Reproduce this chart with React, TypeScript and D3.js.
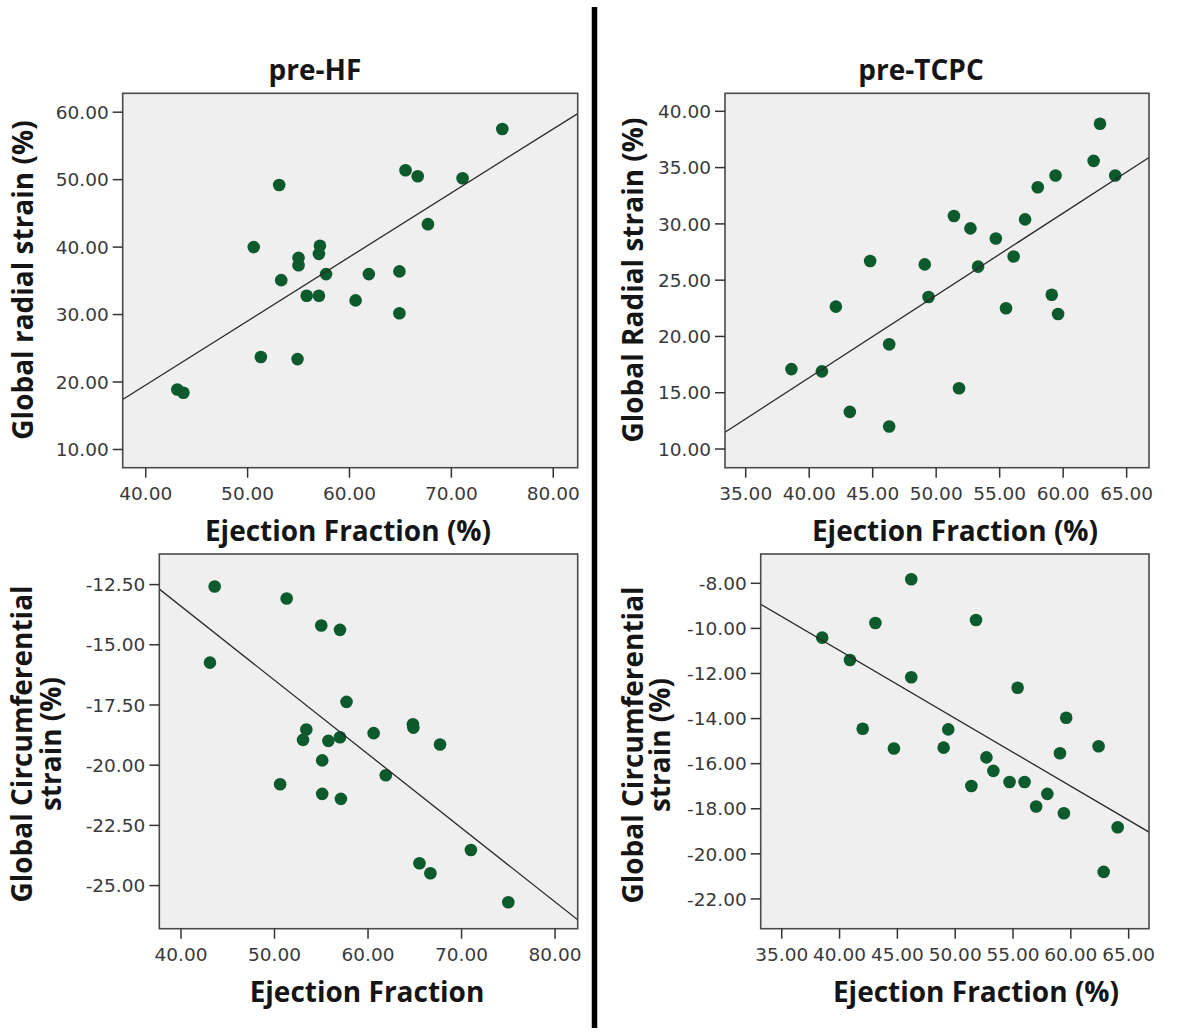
import React from "react";
import * as d3 from "d3";

// ---- Data ----
// Panel A: pre-HF, Global radial strain vs Ejection Fraction
const hfRadialEF = [75.0, 65.5, 66.7, 71.1, 53.1, 67.7, 50.6, 57.1, 57.0, 55.0, 55.0, 57.7, 61.9, 64.9, 53.3, 55.8, 57.0, 60.6, 64.9, 51.3, 54.9, 43.1, 43.7];
const hfRadialStrain = [57.5, 51.4, 50.5, 50.2, 49.2, 43.4, 40.0, 40.2, 39.0, 38.4, 37.3, 36.0, 36.0, 36.4, 35.1, 32.8, 32.8, 32.1, 30.2, 23.7, 23.4, 18.9, 18.4];
const hfRadialFit = [0.949, -18.4]; // slope, intercept

// Panel B: pre-TCPC, Global Radial strain vs Ejection Fraction
const tcpcRadialEF = [62.9, 62.4, 64.1, 59.4, 58.0, 51.4, 57.0, 52.7, 54.7, 56.1, 44.8, 49.1, 53.3, 59.1, 49.4, 42.1, 55.5, 59.6, 46.3, 38.6, 41.0, 51.8, 43.2, 46.3];
const tcpcRadialStrain = [38.9, 35.6, 34.3, 34.3, 33.25, 30.7, 30.4, 29.6, 28.7, 27.1, 26.7, 26.4, 26.2, 23.7, 23.5, 22.65, 22.5, 22.0, 19.3, 17.1, 16.9, 15.4, 13.3, 12.0];
const tcpcRadialFit = [0.731, -12.9];

// Panel C: pre-HF, Global Circumferential strain vs Ejection Fraction
const hfCircEF = [43.6, 51.3, 55.0, 57.0, 43.1, 57.7, 64.8, 64.85, 53.4, 53.05, 55.76, 57.0, 60.6, 67.7, 55.1, 61.9, 50.6, 55.1, 57.1, 71.0, 65.5, 66.67, 75.0];
const hfCircStrain = [-12.58, -13.08, -14.2, -14.38, -15.74, -17.37, -18.3, -18.44, -18.52, -18.95, -18.99, -18.84, -18.67, -19.14, -19.8, -20.42, -20.79, -21.19, -21.4, -23.52, -24.07, -24.49, -25.69];
const hfCircFit = [-0.307, -1.12];

// Panel D: pre-TCPC, Global Circumferential strain vs Ejection Fraction
const tcpcCircEF = [46.2, 51.8, 43.1, 38.5, 40.9, 46.2, 55.4, 59.6, 42.0, 49.4, 44.7, 49.0, 62.4, 59.06, 52.7, 53.3, 51.4, 54.7, 56.0, 57.97, 57.0, 59.4, 64.05, 62.84];
const tcpcCircStrain = [-7.82, -9.63, -9.76, -10.41, -11.4, -12.17, -12.63, -13.96, -14.45, -14.48, -15.33, -15.29, -15.23, -15.54, -15.72, -16.32, -16.99, -16.81, -16.81, -17.34, -17.9, -18.2, -18.82, -20.8];
const tcpcCircFit = [-0.301, 1.06];

// Tick values
const hfXTicks = [40, 50, 60, 70, 80];
const tcpcXTicks = [35, 40, 45, 50, 55, 60, 65];
const hfRadialYTicks = [10, 20, 30, 40, 50, 60];
const tcpcRadialYTicks = [10, 15, 20, 25, 30, 35, 40];
const hfCircYTicks = [-12.5, -15, -17.5, -20, -22.5, -25];
const tcpcCircYTicks = [-8, -10, -12, -14, -16, -18, -20, -22];

const titles = ["pre-HF", "pre-TCPC"];

const TICK_FONT = "'DejaVu Sans', sans-serif";
const TITLE_FONT = "'Open Sans', sans-serif";
const DOT = "#0d5a2c";

type PanelProps = {
  xs: number[];
  ys: number[];
  fit: number[];
  xDomain: [number, number];
  yDomain: [number, number];
  box: { l: number; r: number; t: number; b: number };
  xTicks: number[];
  yTicks: number[];
};

function Panel({ xs, ys, fit, xDomain, yDomain, box, xTicks, yTicks }: PanelProps) {
  const x = d3.scaleLinear().domain(xDomain).range([box.l, box.r]);
  const y = d3.scaleLinear().domain(yDomain).range([box.b, box.t]);
  const fmt = (v: number) => v.toFixed(2);
  const lineGen = d3
    .line<number>()
    .x((d) => x(d))
    .y((d) => y(fit[0] * d + fit[1]));
  const clipId = `clip-${Math.round(box.l)}-${Math.round(box.t)}`;
  return (
    <g>
      <defs>
        <clipPath id={clipId}>
          <rect x={box.l} y={box.t} width={box.r - box.l} height={box.b - box.t} />
        </clipPath>
      </defs>
      <rect x={box.l} y={box.t} width={box.r - box.l} height={box.b - box.t} fill="#efefef" />
      <g clipPath={`url(#${clipId})`}>
        {xs.map((v, i) => (
          <circle key={i} cx={x(v)} cy={y(ys[i])} r={6.3} fill={DOT} />
        ))}
        <path d={lineGen(xDomain) || ""} stroke="#2a2a2a" strokeWidth={1.3} fill="none" />
      </g>
      <rect x={box.l} y={box.t} width={box.r - box.l} height={box.b - box.t} fill="none" stroke="#4a4a4a" strokeWidth={1.6} />
      {xTicks.map((t) => (
        <g key={`x${t}`}>
          <line x1={x(t)} x2={x(t)} y1={box.b} y2={box.b + 10} stroke="#333" strokeWidth={1.5} />
          <text x={x(t)} y={box.b + 32} textAnchor="middle" fontFamily={TICK_FONT} fontSize={18.5} fill="#3a3a3a">
            {fmt(t)}
          </text>
        </g>
      ))}
      {yTicks.map((t) => (
        <g key={`y${t}`}>
          <line x1={box.l - 10} x2={box.l} y1={y(t)} y2={y(t)} stroke="#333" strokeWidth={1.5} />
          <text x={box.l - 14} y={y(t)} dy="0.36em" textAnchor="end" fontFamily={TICK_FONT} fontSize={18.5} fill="#3a3a3a">
            {fmt(t)}
          </text>
        </g>
      ))}
    </g>
  );
}

export default function App() {
  const titleStyle = { fontFamily: TITLE_FONT, fontWeight: 700, fontSize: 28, fill: "#151515" } as const;
  return (
    <svg
      width={1200}
      height={1036}
      style={{ position: "absolute", left: 0, top: 0, background: "#fff" }}
    >
      <rect x={0} y={0} width={1200} height={1036} fill="#fff" />
      <Panel
        xs={hfRadialEF}
        ys={hfRadialStrain}
        fit={hfRadialFit}
        xDomain={[37.74, 82.4]}
        yDomain={[7.3, 62.8]}
        box={{ l: 122.7, r: 577.7, t: 93.3, b: 467.7 }}
        xTicks={hfXTicks}
        yTicks={hfRadialYTicks}
      />
      <Panel
        xs={tcpcRadialEF}
        ys={tcpcRadialStrain}
        fit={tcpcRadialFit}
        xDomain={[33.37, 66.76]}
        yDomain={[8.34, 41.6]}
        box={{ l: 725, r: 1149, t: 93.3, b: 467.7 }}
        xTicks={tcpcXTicks}
        yTicks={tcpcRadialYTicks}
      />
      <Panel
        xs={hfCircEF}
        ys={hfCircStrain}
        fit={hfCircFit}
        xDomain={[37.68, 82.42]}
        yDomain={[-26.79, -11.23]}
        box={{ l: 159.3, r: 577.7, t: 554, b: 928.7 }}
        xTicks={hfXTicks}
        yTicks={hfCircYTicks}
      />
      <Panel
        xs={tcpcCircEF}
        ys={tcpcCircStrain}
        fit={tcpcCircFit}
        xDomain={[33.18, 66.76]}
        yDomain={[-23.32, -6.7]}
        box={{ l: 760.7, r: 1149, t: 554, b: 928.7 }}
        xTicks={tcpcXTicks}
        yTicks={tcpcCircYTicks}
      />

      {/* Titles */}
      <text x={315} y={80} textAnchor="middle" style={titleStyle}>{titles[0]}</text>
      <text x={921} y={80} textAnchor="middle" style={titleStyle}>{titles[1]}</text>

      {/* X axis titles */}
      <text x={348} y={541} textAnchor="middle" style={titleStyle}>Ejection Fraction (%)</text>
      <text x={955} y={541} textAnchor="middle" style={titleStyle}>Ejection Fraction (%)</text>
      <text x={367} y={1002} textAnchor="middle" style={titleStyle}>Ejection Fraction</text>
      <text x={976} y={1002} textAnchor="middle" style={titleStyle}>Ejection Fraction (%)</text>

      {/* Y axis titles */}
      <text transform="translate(33,280) rotate(-90)" textAnchor="middle" style={titleStyle}>Global radial strain (%)</text>
      <text transform="translate(643,280) rotate(-90)" textAnchor="middle" style={titleStyle}>Global Radial strain (%)</text>
      <text transform="translate(32,744) rotate(-90)" textAnchor="middle" style={titleStyle}>
        <tspan x={0} dy={0}>Global Circumferential</tspan>
        <tspan x={0} dy={29}>strain (%)</tspan>
      </text>
      <text transform="translate(643,745) rotate(-90)" textAnchor="middle" style={titleStyle}>
        <tspan x={0} dy={0}>Global Circumferential</tspan>
        <tspan x={0} dy={27}>strain (%)</tspan>
      </text>

      {/* Divider */}
      <line x1={594.5} x2={594.5} y1={7} y2={1028} stroke="#000" strokeWidth={5.5} />
    </svg>
  );
}
